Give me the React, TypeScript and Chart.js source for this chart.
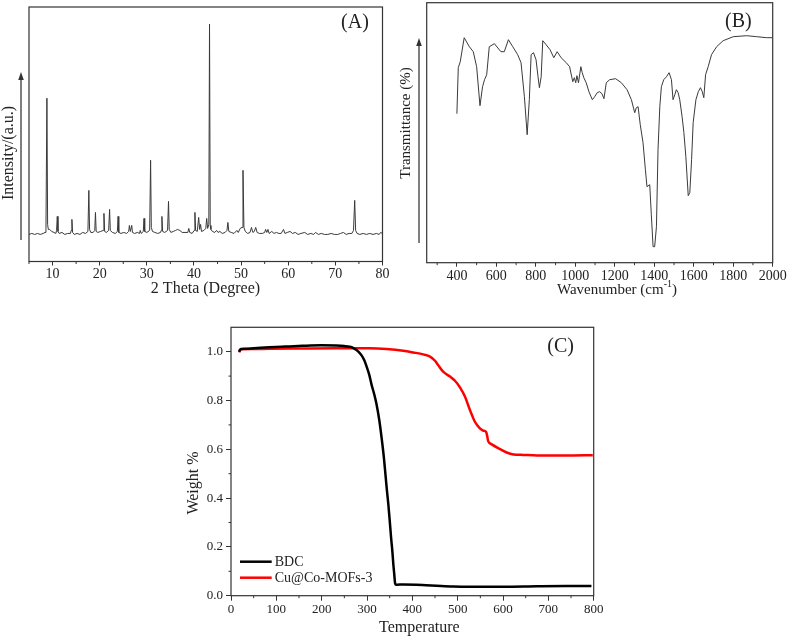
import React, { useEffect, useRef } from "react";
import { Chart, registerables } from "chart.js";
Chart.register(...registerables);

// ---------- Panel A: XRD pattern (2θ, relative intensity) ----------
const xrdPattern: [number, number][] = [
  [5.0, 0], [5.6, 1], [6.2, 0], [6.8, 1], [7.4, 0], [8.0, 1], [8.4, 2], [8.6, 6], [8.8, 136], [8.95, 10], [9.1, 5],
  [9.4, 5], [9.8, 3], [10.3, 2], [10.7, 1], [10.85, 4], [11.0, 18], [11.15, 3], [11.4, 1], [12.0, 2], [12.6, 0],
  [13.2, 1], [13.8, 1], [13.95, 4], [14.1, 15], [14.25, 2], [14.6, 0], [15.2, 1], [15.8, 0], [16.4, 2], [17.0, 1],
  [17.5, 3], [17.7, 44], [17.85, 5], [18.1, 2], [18.6, 2], [18.95, 4], [19.1, 22], [19.25, 3], [19.6, 2], [20.2, 3],
  [20.75, 4], [20.9, 21], [21.05, 3], [21.4, 2], [21.9, 4], [22.1, 25], [22.25, 4], [22.7, 2], [23.3, 1], [23.75, 3],
  [23.9, 18], [24.05, 2], [24.5, 1], [25.1, 2], [25.7, 1], [26.15, 3], [26.3, 9], [26.5, 3], [26.8, 9], [26.95, 2],
  [27.4, 1], [28.0, 2], [28.45, 1], [28.6, 4], [28.8, 1], [29.25, 3], [29.4, 16], [29.55, 3], [30.0, 2], [30.6, 4],
  [30.8, 74], [30.95, 7], [31.2, 3], [31.7, 2], [32.3, 1], [32.9, 2], [33.05, 4], [33.2, 18], [33.35, 3], [33.8, 2],
  [34.4, 4], [34.6, 33], [34.75, 5], [35.1, 2], [35.6, 3], [36.1, 4], [36.5, 5], [37.0, 4], [37.5, 2], [38.1, 2],
  [38.7, 2], [38.9, 6], [39.1, 2], [39.6, 1], [40.05, 4], [40.2, 22], [40.35, 4], [40.7, 3], [41.0, 17], [41.2, 5],
  [41.4, 10], [41.6, 3], [42.1, 4], [42.5, 6], [42.7, 16], [42.9, 6], [43.15, 10], [43.3, 210], [43.45, 9], [43.6, 5],
  [43.9, 3], [44.4, 2], [44.8, 4], [45.1, 2], [45.5, 3], [46.0, 1], [46.6, 2], [47.0, 4], [47.2, 12], [47.4, 3],
  [47.9, 2], [48.5, 1], [49.1, 4], [49.4, 2], [49.8, 6], [50.2, 7], [50.4, 64], [50.6, 7], [50.9, 3], [51.4, 1],
  [51.9, 2], [52.2, 7], [52.5, 2], [52.8, 3], [53.1, 7], [53.4, 2], [53.9, 1], [54.5, 1], [55.0, 2], [55.2, 5],
  [55.45, 2], [55.7, 5], [55.95, 1], [56.5, 3], [57.0, 1], [57.5, 2], [58.0, 1], [58.5, 1], [59.0, 5], [59.3, 1],
  [59.8, 2], [60.4, 3], [60.9, 1], [61.5, 2], [62.1, 0], [62.7, 1], [63.5, 2], [64.1, 0], [64.8, 1], [65.4, 0],
  [65.8, 2], [66.4, 0], [67.0, 1], [67.7, 0], [68.4, 0], [69.1, 1], [69.8, 0], [70.5, 0], [71.1, 1], [71.7, 2],
  [72.3, 0], [72.9, 1], [73.5, 1], [73.85, 4], [74.1, 34], [74.3, 4], [74.6, 1], [75.2, 0], [75.9, 1], [76.6, 0],
  [77.3, 1], [78.0, 0], [78.7, 1], [79.3, 0], [79.6, 2], [80.0, 1],
];
const xrdMajorTicks = [10, 20, 30, 40, 50, 60, 70, 80];
const xrdMinorTicks = [5, 15, 25, 35, 45, 55, 65, 75];

// ---------- Panel B: FTIR spectrum (wavenumber, relative transmittance) ----------
const ftirSpectrum: [number, number][] = [
  [400, 149], [407, 195], [417, 201], [437, 225], [463, 216], [483, 211], [500, 196], [517, 157], [530, 176],
  [540, 183], [551, 188], [564, 216], [590, 219], [623, 211], [640, 211], [661, 223], [683, 216], [708, 208],
  [725, 200], [742, 166], [756, 128], [767, 163], [776, 208], [788, 210], [801, 203], [811, 186], [818, 175],
  [827, 186], [835, 222], [852, 218], [872, 213], [891, 205], [908, 211], [928, 205], [954, 200], [971, 196],
  [987, 181], [995, 185], [1002, 180], [1008, 187], [1016, 180], [1028, 196], [1035, 190], [1043, 185],
  [1055, 180], [1069, 171], [1086, 163], [1098, 166], [1111, 170], [1123, 171], [1135, 169], [1145, 164],
  [1157, 180], [1174, 183], [1204, 184], [1233, 180], [1262, 173], [1284, 163], [1301, 150], [1309, 155],
  [1318, 156], [1329, 138], [1343, 120], [1355, 93], [1363, 76], [1377, 78], [1385, 48], [1394, 16], [1402, 16],
  [1411, 36], [1419, 113], [1428, 156], [1436, 176], [1448, 183], [1462, 186], [1475, 190], [1487, 183],
  [1495, 163], [1504, 168], [1512, 173], [1521, 170], [1529, 163], [1541, 146], [1550, 130], [1560, 106],
  [1572, 67], [1580, 70], [1589, 103], [1597, 140], [1611, 163], [1623, 171], [1634, 175], [1643, 171],
  [1651, 165], [1660, 188], [1673, 196], [1690, 208], [1716, 216], [1749, 222], [1800, 226], [1868, 227],
  [1919, 226], [1969, 225], [2000, 225],
];
const ftirMajorTicks = [400, 600, 800, 1000, 1200, 1400, 1600, 1800, 2000];
const ftirMinorTicks = [300, 500, 700, 900, 1100, 1300, 1500, 1700, 1900];

// ---------- Panel C: TGA curves ----------
const tgaSeriesNames = ["BDC", "Cu@Co-MOFs-3"];
const bdcTemperature = [18, 20, 22, 30, 50, 85, 120, 158, 199, 232, 250, 262, 270, 276, 282, 288, 294, 299, 305, 310,
  316, 321, 327, 332, 337, 341, 344, 347, 350, 353, 356, 358, 360, 362, 364, 366, 380, 409, 430, 453, 490, 527, 601,
  675, 740, 795];
const bdcWeight = [1.0, 1.008, 1.011, 1.012, 1.014, 1.018, 1.021, 1.024, 1.026, 1.025, 1.023, 1.02, 1.015, 1.008,
  0.998, 0.985, 0.965, 0.94, 0.905, 0.865, 0.825, 0.785, 0.72, 0.65, 0.57, 0.49, 0.43, 0.375, 0.31, 0.24, 0.18, 0.13,
  0.09, 0.05, 0.045, 0.045, 0.046, 0.045, 0.043, 0.041, 0.038, 0.037, 0.037, 0.039, 0.04, 0.04];
const cuTemperature = [18, 19, 21, 25, 50, 85, 150, 232, 306, 343, 380, 402, 424, 439, 450, 457, 468, 483, 494, 505,
  516, 527, 538, 549, 556, 560, 563, 565, 567, 569, 575, 590, 608, 623, 645, 675, 748, 798];
const cuWeight = [0.997, 1.003, 1.008, 1.01, 1.011, 1.012, 1.013, 1.014, 1.014, 1.011, 1.004, 0.997, 0.989, 0.98,
  0.963, 0.945, 0.918, 0.898, 0.881, 0.854, 0.816, 0.761, 0.713, 0.686, 0.677, 0.675, 0.67, 0.655, 0.635, 0.628,
  0.62, 0.604, 0.587, 0.579, 0.577, 0.575, 0.575, 0.576];
const tgaXMajorTicks = [0, 100, 200, 300, 400, 500, 600, 700, 800];
const tgaXMinorTicks = [50, 150, 250, 350, 450, 550, 650, 750];
const tgaYMajorTicks = [0, 0.2, 0.4, 0.6, 0.8, 1.0];
const tgaYMinorTicks = [0.1, 0.3, 0.5, 0.7, 0.9];

const SERIF = "'Liberation Serif', 'Times New Roman', serif";
const INK = "#222";
const AXIS = "#333";

const decorPlugin = {
  id: "decor",
  afterDraw(chart: any, _args: any, opts: any) {
    const ctx: CanvasRenderingContext2D = chart.ctx;
    const a = chart.chartArea;
    ctx.save();
    // frame
    ctx.strokeStyle = AXIS;
    ctx.lineWidth = opts.boxWidth || 1.2;
    ctx.strokeRect(a.left, a.top, a.right - a.left, a.bottom - a.top);
    // minor ticks
    ctx.lineWidth = 1;
    const len = opts.minorLen || 2.5;
    const xs = chart.scales.x;
    (opts.minorX || []).forEach((v: number) => {
      const px = xs.getPixelForValue(v);
      ctx.beginPath();
      ctx.moveTo(px, a.bottom);
      ctx.lineTo(px, a.bottom + len);
      ctx.stroke();
    });
    const ys = chart.scales.y;
    (opts.minorY || []).forEach((v: number) => {
      const py = ys.getPixelForValue(v);
      ctx.beginPath();
      ctx.moveTo(a.left - len, py);
      ctx.lineTo(a.left, py);
      ctx.stroke();
    });
    // arrow
    if (opts.arrow) {
      const { x, y0, y1 } = opts.arrow;
      ctx.strokeStyle = "#555";
      ctx.lineWidth = 1.5;
      ctx.beginPath();
      ctx.moveTo(x, y0);
      ctx.lineTo(x, y1 + 6);
      ctx.stroke();
      ctx.fillStyle = "#333";
      ctx.beginPath();
      ctx.moveTo(x, y1);
      ctx.lineTo(x - 2.8, y1 + 8);
      ctx.lineTo(x + 2.8, y1 + 8);
      ctx.closePath();
      ctx.fill();
    }
    // texts
    ctx.fillStyle = INK;
    ctx.textBaseline = "middle";
    (opts.texts || []).forEach((t: any) => {
      ctx.save();
      ctx.translate(t.x, t.y);
      if (t.rotate) ctx.rotate(t.rotate);
      ctx.font = `${t.size}px ${SERIF}`;
      if (t.sup) {
        const w1 = ctx.measureText(t.text).width;
        ctx.font = `${t.supSize}px ${SERIF}`;
        const ws = ctx.measureText(t.sup).width;
        ctx.font = `${t.size}px ${SERIF}`;
        const w2 = ctx.measureText(t.after).width;
        let cx = -(w1 + ws + w2) / 2;
        ctx.textAlign = "left";
        ctx.fillText(t.text, cx, 0);
        cx += w1;
        ctx.font = `${t.supSize}px ${SERIF}`;
        ctx.fillText(t.sup, cx, -t.size * 0.35);
        cx += ws;
        ctx.font = `${t.size}px ${SERIF}`;
        ctx.fillText(t.after, cx, 0);
      } else {
        ctx.textAlign = "center";
        ctx.fillText(t.text, 0, 0);
      }
      ctx.restore();
    });
    // legend
    if (opts.legend) {
      const lg = opts.legend;
      chart.data.datasets.forEach((ds: any, i: number) => {
        const y = lg.y + i * lg.gap;
        ctx.strokeStyle = ds.borderColor;
        ctx.lineWidth = ds.borderWidth;
        ctx.beginPath();
        ctx.moveTo(lg.x, y);
        ctx.lineTo(lg.x + lg.len, y);
        ctx.stroke();
        ctx.fillStyle = INK;
        ctx.font = `${lg.size}px ${SERIF}`;
        ctx.textAlign = "left";
        ctx.textBaseline = "middle";
        ctx.fillText(ds.label, lg.x + lg.len + 3, y + 1);
      });
    }
    ctx.restore();
  },
};

const fixHeight = (h: number) => (s: any) => {
  s.height = h;
  s.paddingLeft = 0;
  s.paddingRight = 0;
  s.paddingTop = 0;
  s.paddingBottom = 0;
};
const fixWidth = (w: number) => (s: any) => {
  s.width = w;
  s.paddingLeft = 0;
  s.paddingRight = 0;
  s.paddingTop = 0;
  s.paddingBottom = 0;
};
const setTicks = (vals: number[]) => (s: any) => {
  s.ticks = vals.map((v) => ({ value: v }));
};

const xAxis = (min: number, max: number, majors: number[], h: number, size: number, tl: number, pad: number, fmt: (v: number) => string) => ({
  type: "linear",
  min,
  max,
  afterBuildTicks: setTicks(majors),
  afterFit: fixHeight(h),
  border: { display: false },
  grid: { display: true, drawOnChartArea: false, drawTicks: true, tickLength: tl, tickColor: AXIS, tickWidth: 1 },
  ticks: {
    autoSkip: false,
    maxRotation: 0,
    minRotation: 0,
    padding: pad,
    color: INK,
    font: { family: SERIF, size },
    callback: (v: any) => fmt(Number(v)),
  },
});

export default function App() {
  const refA = useRef<HTMLCanvasElement>(null);
  const refB = useRef<HTMLCanvasElement>(null);
  const refC = useRef<HTMLCanvasElement>(null);

  useEffect(() => {
    const charts: Chart[] = [];

    // Panel A
    charts.push(
      new Chart(refA.current as HTMLCanvasElement, {
        type: "line",
        data: {
          datasets: [
            {
              data: xrdPattern.map(([x, y]) => ({ x, y })),
              borderColor: "#3a3a3a",
              borderWidth: 1,
              pointRadius: 0,
              tension: 0,
            },
          ],
        },
        options: {
          responsive: false,
          animation: false,
          devicePixelRatio: 1,
          layout: { padding: { left: 29, top: 7, right: 7.5, bottom: 0 } },
          plugins: {
            legend: { display: false },
            tooltip: { enabled: false },
            decor: {
              minorX: xrdMinorTicks,
              arrow: { x: 21, y0: 240, y1: 72 },
              texts: [
                { text: "Intensity/(a.u.)", x: 9, y: 153, size: 16, rotate: -Math.PI / 2 },
                { text: "2 Theta (Degree)", x: 205.5, y: 289, size: 16 },
                { text: "(A)", x: 355, y: 23, size: 20 },
              ],
            },
          } as any,
          scales: {
            x: xAxis(5, 80, xrdMajorTicks, 38.5, 14, 4, 0, (v) => String(v)) as any,
            y: { display: false, min: -27, max: 227 },
          },
        },
        plugins: [decorPlugin],
      })
    );

    // Panel B
    charts.push(
      new Chart(refB.current as HTMLCanvasElement, {
        type: "line",
        data: {
          datasets: [
            {
              data: ftirSpectrum.map(([x, y]) => ({ x, y })),
              borderColor: "#3a3a3a",
              borderWidth: 1,
              pointRadius: 0,
              tension: 0,
            },
          ],
        },
        options: {
          responsive: false,
          animation: false,
          devicePixelRatio: 1,
          layout: { padding: { left: 36.7, top: 2.7, right: 14.3, bottom: 0 } },
          plugins: {
            legend: { display: false },
            tooltip: { enabled: false },
            decor: {
              minorX: ftirMinorTicks,
              arrow: { x: 29, y0: 243, y1: 38 },
              texts: [
                { text: "Transmittance (%)", x: 16.3, y: 123, size: 15, rotate: -Math.PI / 2 },
                { text: "Wavenumber (cm", sup: "-1", after: ")", supSize: 10, x: 227, y: 290, size: 15 },
                { text: "(B)", x: 348.3, y: 22, size: 20 },
              ],
            },
          } as any,
          scales: {
            x: xAxis(247, 2000, ftirMajorTicks, 37.3, 14, 4, 1, (v) => String(v)) as any,
            y: { display: false, min: 0, max: 260 },
          },
        },
        plugins: [decorPlugin],
      })
    );

    // Panel C
    charts.push(
      new Chart(refC.current as HTMLCanvasElement, {
        type: "line",
        data: {
          datasets: [
            {
              label: tgaSeriesNames[0],
              data: bdcTemperature.map((x, i) => ({ x, y: bdcWeight[i] })),
              borderColor: "#000000",
              borderWidth: 2.5,
              pointRadius: 0,
              cubicInterpolationMode: "monotone",
            },
            {
              label: tgaSeriesNames[1],
              data: cuTemperature.map((x, i) => ({ x, y: cuWeight[i] })),
              borderColor: "#ff0000",
              borderWidth: 2.5,
              pointRadius: 0,
              cubicInterpolationMode: "monotone",
            },
          ],
        },
        options: {
          responsive: false,
          animation: false,
          devicePixelRatio: 1,
          layout: { padding: { left: 0, top: 27.3, right: 26.3, bottom: 0 } },
          plugins: {
            legend: { display: false },
            tooltip: { enabled: false },
            decor: {
              minorX: tgaXMinorTicks,
              minorY: tgaYMinorTicks,
              texts: [
                { text: "Weight %", x: 24, y: 183, size: 16, rotate: -Math.PI / 2 },
                { text: "Temperature", x: 249.3, y: 327.3, size: 16 },
                { text: "(C)", x: 390.7, y: 46.7, size: 20 },
              ],
              legend: { x: 70, y: 261.7, gap: 16, len: 31.7, size: 14 },
            },
          } as any,
          scales: {
            x: xAxis(0, 800, tgaXMajorTicks, 41.3, 13, 5, 1.5, (v) => String(v)) as any,
            y: {
              type: "linear",
              min: 0,
              max: 1.1,
              afterBuildTicks: setTicks(tgaYMajorTicks),
              afterFit: fixWidth(61),
              border: { display: false },
              grid: { display: true, drawOnChartArea: false, drawTicks: true, tickLength: 5, tickColor: AXIS, tickWidth: 1 },
              ticks: {
                autoSkip: false,
                padding: 3,
                color: INK,
                font: { family: SERIF, size: 13 },
                callback: (v: any) => Number(v).toFixed(1),
              },
            } as any,
          },
        },
        plugins: [decorPlugin],
      })
    );

    return () => charts.forEach((c) => c.destroy());
  }, []);

  return (
    <div style={{ position: "absolute", left: 0, top: 0, width: 787, height: 637, background: "#fff", overflow: "hidden" }}>
      <canvas ref={refA} width={390} height={300} style={{ position: "absolute", left: 0, top: 0, width: 390, height: 300 }} />
      <canvas ref={refB} width={397} height={300} style={{ position: "absolute", left: 390, top: 0, width: 397, height: 300 }} />
      <canvas ref={refC} width={450} height={337} style={{ position: "absolute", left: 170, top: 300, width: 450, height: 337 }} />
    </div>
  );
}
